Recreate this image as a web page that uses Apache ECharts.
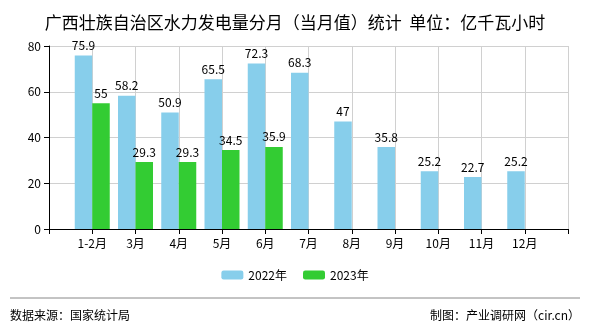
<!DOCTYPE html>
<html>
<head>
<meta charset="utf-8">
<script src="https://cdn.jsdelivr.net/npm/echarts@6/dist/echarts.min.js"></script>
<style>
  html, body { margin: 0; padding: 0; background: #fff; }
  #chart { width: 590px; height: 330px; }
</style>
</head>
<body>
<div id="chart"></div>
<script>
// Monthly hydropower output, Guangxi (100 million kWh)
const months = ['', '1-2月', '3月', '4月', '5月', '6月', '7月', '8月', '9月', '10月', '11月', '12月', ''];
const values2022 = [null, 75.9, 58.2, 50.9, 65.5, 72.3, 68.3, 47, 35.8, 25.2, 22.7, 25.2, null];
const values2023 = [null, 55, 29.3, 29.3, 34.5, 35.9, null, null, null, null, null, null, null];
const yTicks = { min: 0, max: 80, interval: 20 };

const fontFamily = '"Noto Sans CJK SC", "DejaVu Sans", sans-serif';
const chart = echarts.init(document.getElementById('chart'), null, { renderer: 'canvas' });

const labelStyle = {
  show: true,
  position: 'top',
  distance: 4,
  color: '#000',
  fontSize: 12,
  fontFamily: fontFamily
};

chart.setOption({
  animation: false,
  backgroundColor: '#fff',
  title: {
    text: '广西壮族自治区水力发电量分月（当月值）统计  单位：亿千瓦小时',
    left: 'center',
    top: 9,
    textStyle: { fontSize: 17, fontWeight: 'normal', color: '#000', fontFamily: fontFamily }
  },
  legend: {
    bottom: 44,
    left: 'center',
    itemWidth: 22,
    itemHeight: 9,
    itemGap: 16,
    textStyle: { fontSize: 12, color: '#000', fontFamily: fontFamily },
    data: ['2022年', '2023年']
  },
  grid: { left: 49, right: 22, top: 46, bottom: 101 },
  xAxis: {
    type: 'category',
    data: months,
    boundaryGap: false,
    axisLine: { lineStyle: { color: '#000', width: 1 } },
    axisTick: { show: true, length: 5, lineStyle: { color: '#000' } },
    axisLabel: { interval: 0, color: '#000', fontSize: 12, fontFamily: fontFamily, margin: 8 },
    splitLine: { show: true, lineStyle: { color: '#d0d0d0', width: 1 } }
  },
  yAxis: {
    type: 'value',
    min: yTicks.min,
    max: yTicks.max,
    interval: yTicks.interval,
    axisLine: { show: true, lineStyle: { color: '#000', width: 1 } },
    axisTick: { show: true, length: 5, lineStyle: { color: '#000' } },
    axisLabel: { color: '#000', fontSize: 12, fontFamily: fontFamily, margin: 8 },
    splitLine: { show: true, lineStyle: { color: '#d0d0d0', width: 1 } }
  },
  series: [
    {
      name: '2022年',
      type: 'bar',
      data: values2022,
      barWidth: 17.5,
      barGap: '0%',
      itemStyle: { color: '#87CEEB' },
      label: labelStyle
    },
    {
      name: '2023年',
      type: 'bar',
      data: values2023,
      barWidth: 17.5,
      barGap: '0%',
      itemStyle: { color: '#33CC33' },
      label: labelStyle
    }
  ],
  graphic: [
    {
      type: 'line',
      shape: { x1: 10, y1: 298, x2: 580, y2: 298 },
      style: { stroke: '#888', lineWidth: 1 }
    },
    {
      type: 'text',
      left: 10,
      top: 309,
      style: { text: '数据来源：国家统计局', fontSize: 12, fill: '#000', fontFamily: fontFamily }
    },
    {
      type: 'text',
      right: 10,
      top: 309,
      style: { text: '制图：产业调研网（cir.cn）', fontSize: 12, fill: '#000', fontFamily: fontFamily }
    }
  ]
});
</script>
</body>
</html>
